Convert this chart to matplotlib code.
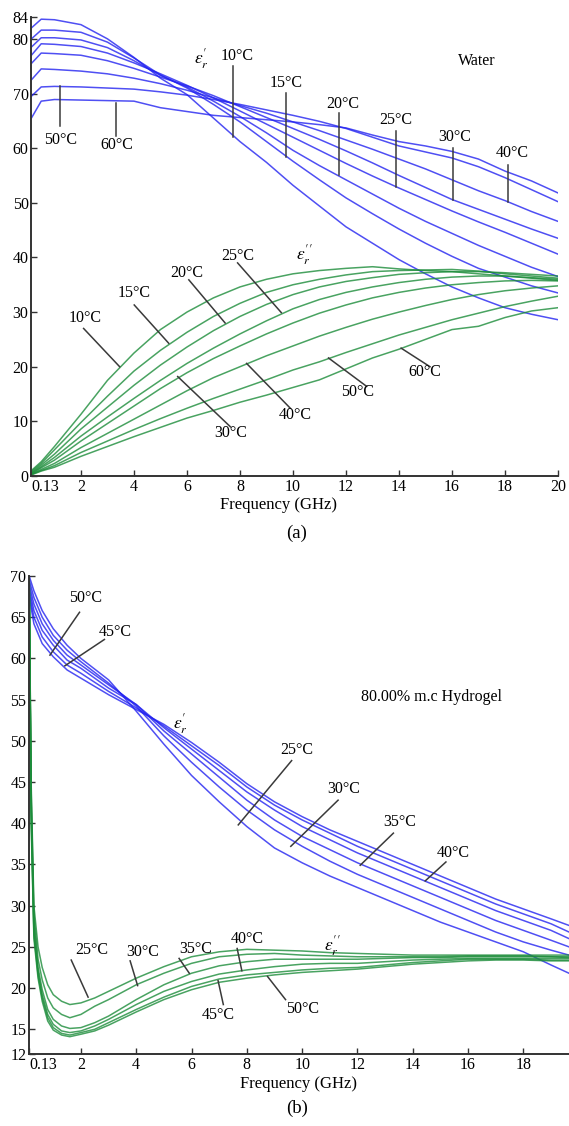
import matplotlib
matplotlib.use("Agg")
import matplotlib.pyplot as plt
import numpy as np

plt.rcParams['font.family'] = ['Liberation Serif', 'DejaVu Serif']
plt.rcParams['mathtext.fontset'] = 'stix'

W, H = 569, 1126

# ---------------- panel (a): water ----------------
freq_a = [0.13, 0.5, 1, 2, 3, 4, 5, 6, 7, 8, 9, 10, 11, 12, 13, 14, 15, 16, 17, 18, 19, 20]
temps_a = ['10', '15', '20', '25', '30', '40', '50', '60']

eps1_water = {
    '10': [82.0, 83.6, 83.5, 82.6, 80.0, 76.6, 72.8, 69.8, 65.5, 61.2, 57.4, 53.2, 49.4, 45.6, 42.6, 39.6, 37.0, 34.6, 32.6, 30.8, 29.6, 28.6],
    '15': [80.0, 81.6, 81.6, 81.2, 79.4, 76.5, 73.4, 71.0, 68.0, 64.8, 61.2, 57.6, 54.2, 50.9, 48.0, 45.2, 42.6, 40.2, 38.0, 36.4, 34.8, 33.5],
    '20': [78.5, 80.2, 80.2, 79.8, 78.4, 76.0, 73.3, 71.2, 68.6, 65.8, 62.8, 59.6, 56.8, 54.2, 51.6, 49.0, 46.6, 44.4, 42.2, 40.2, 38.2, 36.5],
    '25': [77.0, 79.1, 79.0, 78.6, 77.4, 75.6, 73.6, 71.5, 69.2, 66.8, 64.4, 62.0, 59.6, 57.2, 54.9, 52.7, 50.6, 48.5, 46.5, 44.6, 42.6, 40.6],
    '30': [75.5, 77.4, 77.3, 77.0, 76.0, 74.6, 73.0, 71.4, 69.6, 67.6, 65.6, 63.6, 61.6, 59.5, 57.3, 55.0, 52.8, 50.6, 48.8, 47.0, 45.2, 43.5],
    '40': [72.5, 74.5, 74.4, 74.1, 73.6, 72.8, 71.8, 70.6, 69.2, 67.8, 66.4, 64.8, 63.2, 61.5, 59.8, 58.0, 56.2, 54.2, 52.2, 50.4, 48.4, 46.6],
    '50': [69.5, 71.2, 71.3, 71.2, 71.0, 70.8, 70.3, 69.7, 68.9, 68.0, 67.0, 66.0, 64.9, 63.6, 62.0, 60.4, 59.3, 58.2, 56.6, 54.6, 52.4, 50.2],
    '60': [65.5, 68.6, 68.9, 68.8, 68.7, 68.6, 67.4, 66.7, 66.0, 65.6, 65.2, 64.8, 64.3, 63.7, 62.4, 61.2, 60.4, 59.4, 58.0, 55.8, 54.0, 51.8],
}

eps2_water = {
    '10': [1.0, 2.6, 5.4, 11.3, 17.5, 22.5, 26.8, 30.0, 32.6, 34.6, 36.0, 37.0, 37.6, 38.0, 38.3, 37.9, 37.6, 37.4, 37.0, 36.6, 36.2, 35.8],
    '15': [0.8, 2.3, 4.8, 9.8, 14.6, 19.2, 23.0, 26.3, 29.2, 31.6, 33.6, 35.0, 36.0, 36.8, 37.4, 37.6, 37.7, 37.8, 37.5, 37.0, 36.6, 36.2],
    '20': [0.6, 2.0, 4.0, 8.6, 12.6, 16.6, 20.3, 23.6, 26.6, 29.2, 31.4, 33.2, 34.6, 35.6, 36.3, 36.9, 37.2, 37.4, 37.4, 37.2, 36.9, 36.6],
    '25': [0.5, 1.7, 3.4, 7.3, 10.8, 14.2, 17.5, 20.6, 23.4, 26.0, 28.4, 30.6, 32.3, 33.6, 34.6, 35.4, 36.0, 36.4, 36.6, 36.6, 36.3, 36.0],
    '30': [0.4, 1.5, 2.9, 6.4, 9.6, 12.8, 16.0, 18.9, 21.5, 23.8, 26.0, 28.0, 29.8, 31.3, 32.6, 33.6, 34.4, 35.0, 35.4, 35.7, 35.8, 35.7],
    '40': [0.3, 1.2, 2.3, 5.2, 7.8, 10.4, 13.0, 15.6, 18.0, 20.0, 22.0, 23.8, 25.6, 27.2, 28.7, 30.0, 31.2, 32.3, 33.2, 33.9, 34.4, 34.8],
    '50': [0.3, 1.0, 1.9, 4.3, 6.4, 8.5, 10.5, 12.4, 14.2, 15.9, 17.6, 19.4, 20.9, 22.6, 24.2, 25.8, 27.2, 28.6, 29.8, 31.0, 32.0, 32.9],
    '60': [0.2, 0.9, 1.6, 3.6, 5.4, 7.2, 8.9, 10.6, 12.0, 13.5, 14.8, 16.2, 17.6, 19.6, 21.6, 23.2, 25.0, 26.8, 27.4, 29.0, 30.2, 30.8],
}

# label text position, marker start, marker end (data coords)
labels1_water = [
    ('10', (7.88, 76.8), (7.75, 75.0), (7.75, 62.1)),
    ('15', (9.76, 71.9), (9.74, 70.1), (9.74, 58.4)),
    ('20', (11.88, 68.1), (11.73, 66.5), (11.73, 55.1)),
    ('25', (13.89, 65.1), (13.89, 63.1), (13.89, 52.9)),
    ('30', (16.10, 62.0), (16.05, 60.0), (16.05, 50.5)),
    ('40', (18.27, 59.1), (18.13, 57.0), (18.13, 50.2)),
    ('50', (1.24, 61.5), (1.21, 64.1), (1.21, 71.3)),
    ('60', (3.37, 60.6), (3.31, 62.3), (3.31, 68.3)),
]
labels2_water = [
    ('10', (2.16, 29.0), (2.10, 27.0), (3.46, 20.0)),
    ('15', (4.01, 33.5), (4.01, 31.3), (5.31, 24.3)),
    ('20', (6.00, 37.1), (6.07, 35.9), (7.44, 28.0)),
    ('25', (7.91, 40.2), (7.91, 39.0), (9.56, 29.9)),
    ('30', (7.64, 7.8), (5.65, 18.2), (7.64, 9.0)),
    ('40', (10.10, 11.2), (8.25, 20.6), (9.90, 12.4)),
    ('50', (12.43, 15.4), (11.34, 21.6), (12.78, 16.4)),
    ('60', (14.96, 19.1), (14.08, 23.4), (15.17, 20.0)),
]

# ---------------- panel (b): hydrogel ----------------
freq_b1 = [0.13, 0.3, 0.6, 1, 1.5, 2, 3, 4, 5, 6, 7, 8, 9, 10, 11, 12, 13, 14, 15, 16, 17, 18, 19, 19.65]
temps_b = ['25', '30', '35', '40', '45', '50']

eps1_gel = {
    '25': [70.0, 68.2, 65.8, 63.6, 61.6, 60.0, 57.4, 53.6, 49.6, 45.8, 42.6, 39.6, 37.0, 35.2, 33.6, 32.2, 30.8, 29.4, 28.0, 26.8, 25.6, 24.4, 22.8, 21.8],
    '30': [69.5, 67.4, 65.0, 62.8, 61.0, 59.6, 57.0, 54.2, 50.6, 47.4, 44.4, 41.6, 39.2, 37.2, 35.4, 33.8, 32.4, 31.0, 29.6, 28.2, 26.8, 25.6, 24.6, 24.0],
    '35': [69.0, 66.6, 64.2, 62.2, 60.4, 59.2, 56.8, 54.4, 51.2, 48.4, 45.6, 42.8, 40.4, 38.4, 36.8, 35.2, 33.8, 32.4, 31.0, 29.6, 28.2, 27.0, 25.8, 25.0],
    '40': [68.5, 65.8, 63.4, 61.6, 59.8, 58.8, 56.4, 54.4, 51.6, 49.0, 46.4, 43.8, 41.6, 39.6, 38.0, 36.4, 35.0, 33.6, 32.2, 30.8, 29.4, 28.2, 27.0, 26.0],
    '45': [68.0, 65.0, 62.6, 60.8, 59.2, 58.2, 56.0, 54.0, 51.8, 49.4, 47.0, 44.4, 42.2, 40.4, 38.8, 37.2, 35.8, 34.4, 33.0, 31.6, 30.2, 29.0, 27.8, 26.8],
    '50': [67.5, 64.2, 61.8, 60.2, 58.6, 57.6, 55.6, 53.8, 52.0, 49.8, 47.4, 44.8, 42.6, 40.8, 39.2, 37.8, 36.4, 35.0, 33.6, 32.2, 30.8, 29.6, 28.4, 27.6],
}

freq_b2 = [0.13, 0.2, 0.3, 0.45, 0.6, 0.8, 1.0, 1.3, 1.6, 2.0, 2.5, 3, 4, 5, 6, 7, 8, 9, 10,
           11, 12, 13, 14, 15, 16, 17, 18, 19, 19.65]
eps2_gel = {
    '25': [70, 45, 30, 25.0, 22.5, 20.4, 19.2, 18.4, 18.0, 18.2, 18.8, 19.6, 21.2, 22.6, 23.8, 24.4, 24.7, 24.6, 24.5, 24.3, 24.2, 24.1, 24.0, 24.0, 24.0, 24.0, 24.0, 24.0, 24.0],
    '30': [70, 44, 29, 23.5, 21.0, 18.8, 17.6, 16.8, 16.4, 16.8, 17.8, 18.6, 20.4, 21.8, 23.0, 23.8, 24.1, 24.2, 24.0, 23.9, 23.8, 23.8, 23.8, 23.8, 23.9, 23.9, 23.9, 23.8, 23.8],
    '35': [70, 43, 28, 22.5, 19.8, 17.4, 16.2, 15.4, 15.1, 15.2, 15.8, 16.6, 18.6, 20.4, 21.8, 22.7, 23.2, 23.5, 23.5, 23.5, 23.5, 23.6, 23.7, 23.7, 23.8, 23.8, 23.8, 23.8, 23.7],
    '40': [70, 42, 27, 22.0, 19.2, 16.8, 15.6, 14.8, 14.6, 14.8, 15.4, 16.2, 18.0, 19.6, 20.8, 21.7, 22.2, 22.6, 22.9, 23.0, 23.0, 23.2, 23.4, 23.5, 23.6, 23.6, 23.6, 23.6, 23.6],
    '45': [70, 41, 26.5, 21.6, 18.8, 16.4, 15.2, 14.5, 14.3, 14.6, 15.0, 15.8, 17.4, 18.9, 20.2, 21.1, 21.6, 21.9, 22.2, 22.4, 22.5, 22.8, 23.1, 23.3, 23.5, 23.5, 23.5, 23.4, 23.4],
    '50': [70, 40, 26, 21.2, 18.4, 16.0, 14.9, 14.3, 14.1, 14.4, 14.8, 15.5, 17.1, 18.6, 19.8, 20.7, 21.2, 21.6, 21.9, 22.1, 22.3, 22.6, 22.9, 23.1, 23.3, 23.4, 23.4, 23.3, 23.3],
}

labels1_gel = [
    ('50', (2.18, 67.3), (1.95, 65.6), (0.88, 60.4)),
    ('45', (3.23, 63.2), (2.85, 62.3), (1.42, 59.1)),
    ('25', (9.80, 48.9), (9.62, 47.6), (7.69, 39.8)),
    ('30', (11.49, 44.2), (11.30, 42.8), (9.59, 37.2)),
    ('35', (13.54, 40.2), (13.30, 38.8), (12.10, 34.9)),
    ('40', (15.45, 36.4), (15.20, 35.3), (14.45, 33.0)),
]
labels2_gel = [
    ('25', (2.40, 24.6), (1.65, 23.4), (2.26, 18.9)),
    ('30', (4.25, 24.4), (3.78, 23.3), (4.05, 20.3)),
    ('35', (6.15, 24.8), (5.55, 23.6), (5.92, 21.8)),
    ('40', (8.03, 26.0), (7.65, 24.8), (7.82, 22.1)),
    ('45', (6.95, 16.7), (7.15, 18.0), (6.96, 20.9)),
    ('50', (10.0, 17.4), (9.40, 18.6), (8.75, 21.4)),
]

BLUE = '#2323f0'
GREEN = '#1c8c3a'
GREY = '#3a3a3a'
FS = 11.5


def style_axis(ax):
    for s in ['top', 'right']:
        ax.spines[s].set_visible(False)
    for s in ['left', 'bottom']:
        ax.spines[s].set_color('#333333')
        ax.spines[s].set_linewidth(1.4)
    ax.tick_params(direction='in', length=4, width=1.0, color='#333333',
                   labelsize=FS, pad=2)
    # first x label (0.13) sits to the right of the corner, like the original
    ax.get_xticklabels()[0].set_horizontalalignment('left')


def put_labels(ax, items):
    for t, txt_pos, a, b in items:
        ax.plot([a[0], b[0]], [a[1], b[1]], color=GREY, lw=1.1, zorder=3)
        ax.text(txt_pos[0], txt_pos[1], t + '°C', ha='center', va='center',
                fontsize=FS, zorder=4)


fig = plt.figure(figsize=(W / 100, H / 100), dpi=100)

# panel (a)
ax1 = fig.add_axes([31.4 / W, 1 - 476 / H, (558 - 31.4) / W, (476 - 17) / H])
for t in temps_a:
    ax1.plot(freq_a, eps1_water[t], color=BLUE, lw=1.1, alpha=0.8)
for t in temps_a:
    ax1.plot(freq_a, eps2_water[t], color=GREEN, lw=1.1, alpha=0.8)
ax1.set_xlim(0.13, 20)
ax1.set_ylim(0, 84)
ax1.set_xticks([0.13, 2, 4, 6, 8, 10, 12, 14, 16, 18, 20])
ax1.set_xticklabels(['0.13', '2', '4', '6', '8', '10', '12', '14', '16', '18', '20'])
ax1.set_yticks([0, 10, 20, 30, 40, 50, 60, 70, 80, 84])
ax1.set_yticklabels(['0', '10', '20', '30', '40', '50', '60', '70', '80', '84'])
style_axis(ax1)
put_labels(ax1, labels1_water)
put_labels(ax1, labels2_water)
ax1.text(6.56, 76.4, r"$\varepsilon_r'$", ha='center', va='center', fontsize=12.5)
ax1.text(10.45, 40.6, r"$\varepsilon_r''$", ha='center', va='center', fontsize=12.5)
ax1.text(16.93, 75.9, 'Water', ha='center', va='center', fontsize=FS)

# panel (b)
ax2 = fig.add_axes([29.2 / W, 1 - 1054 / H, (569 - 29.2) / W, (1054 - 576) / H])
for t in temps_b:
    ax2.plot(freq_b1, eps1_gel[t], color=BLUE, lw=1.1, alpha=0.8)
for t in temps_b:
    ax2.plot(freq_b2, eps2_gel[t], color=GREEN, lw=1.1, alpha=0.8)
ax2.set_xlim(0.13, 19.65)
ax2.set_ylim(12, 70)
ax2.set_xticks([0.13, 2, 4, 6, 8, 10, 12, 14, 16, 18])
ax2.set_xticklabels(['0.13', '2', '4', '6', '8', '10', '12', '14', '16', '18'])
ax2.set_yticks([12, 15, 20, 25, 30, 35, 40, 45, 50, 55, 60, 65, 70])
style_axis(ax2)
put_labels(ax2, labels1_gel)
put_labels(ax2, labels2_gel)
ax2.text(5.58, 52.1, r"$\varepsilon_r'$", ha='center', va='center', fontsize=12.5)
ax2.text(11.1, 25.2, r"$\varepsilon_r''$", ha='center', va='center', fontsize=12.5)
ax2.text(14.69, 55.3, '80.00% m.c Hydrogel', ha='center', va='center', fontsize=FS)

# axis titles and captions
fig.text(278 / W, 1 - 505 / H, 'Frequency (GHz)', ha='center', va='center', fontsize=12)
fig.text(297 / W, 1 - 533 / H, '(a)', ha='center', va='center', fontsize=13.5)
fig.text(299 / W, 1 - 1084 / H, 'Frequency (GHz)', ha='center', va='center', fontsize=12)
fig.text(297 / W, 1 - 1108 / H, '(b)', ha='center', va='center', fontsize=13.5)

fig.savefig('out.png', dpi=100)
